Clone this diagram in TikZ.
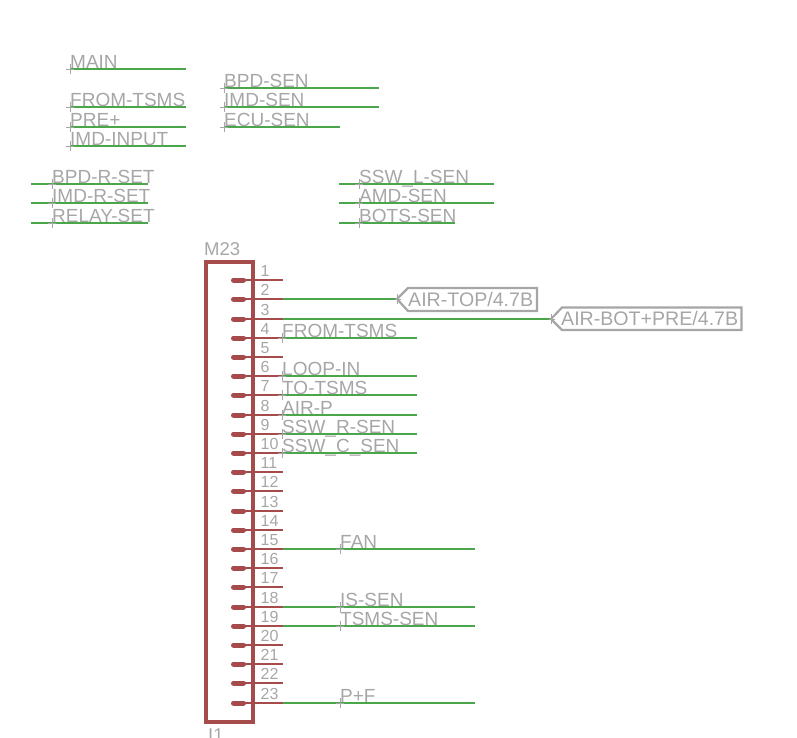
\documentclass[tikz,border=0pt]{standalone}
\usepackage{fontspec}
\setmainfont{Liberation Sans}
\definecolor{eagrey}{HTML}{A6A6A6}
\definecolor{eared}{HTML}{A54B4B}
\definecolor{eagreen}{HTML}{4BA54B}
\tikzset{
  netwire/.style={draw=eagreen,line width=2.4pt},
  pinline/.style={draw=eared,line width=2.2pt},
  pinpad/.style={draw=eared,line width=5pt,line cap=round},
  framebox/.style={draw=eared,line width=4pt,line join=miter},
  labeltext/.style={text=eagrey,inner sep=0pt,anchor=base west,font=\fontsize{19}{22}\selectfont},
  pintext/.style={text=eagrey,inner sep=0pt,anchor=base west,font=\fontsize{16}{18}\selectfont},
  originmark/.style={draw=eagrey,line width=0.8pt},
  flagbox/.style={draw=eagrey,line width=2.2pt,line join=miter}
}
% name, x of label, wire start x, wire end x, y, text
\newcommand{\netseg}[6]{%
  \coordinate (#1a) at (#3,#5);
  \coordinate (#1b) at (#4,#5);
  \draw[netwire] (#1a) -- (#1b);
  \coordinate (#1o) at (#2,#5);
  \draw[originmark] ([xshift=-4pt]#1o) -- ([xshift=4pt]#1o);
  \draw[originmark] ([yshift=-5pt]#1o) -- ([yshift=5pt]#1o);
  \node[labeltext] (#1t) at ([yshift=1pt]#1o) {#6};
}
\begin{document}
\begin{tikzpicture}[x=1pt,y=-1pt]
\useasboundingbox (0,0) rectangle (797,737);
% free nets, upper left
\netseg{main}{70}{70}{186}{69}{MAIN}
\netseg{ftsa}{70}{70}{186}{107}{FROM-TSMS}
\netseg{pre}{70}{70}{186}{127}{PRE+}
\netseg{imdi}{70}{70}{186}{146}{IMD-INPUT}
\netseg{bpds}{224}{224}{379}{88}{BPD-SEN}
\netseg{imds}{224}{224}{379}{107}{IMD-SEN}
\netseg{ecus}{224}{224}{340}{127}{ECU-SEN}
\netseg{bpdr}{52}{31}{148}{184}{BPD-R-SET}
\netseg{imdr}{52}{31}{148}{203}{IMD-R-SET}
\netseg{rels}{52}{31}{148}{223}{RELAY-SET}
\netseg{sswl}{359}{339}{494}{184}{SSW\_L-SEN}
\netseg{amds}{359}{339}{494}{203}{AMD-SEN}
\netseg{bots}{359}{339}{455}{223}{BOTS-SEN}
% connector frame
\coordinate (fa) at (206,261.5);
\coordinate (fb) at (253,721.5);
\draw[framebox] (fa) rectangle (fb);
\node[labeltext,font=\fontsize{18.5}{20}\selectfont] (mname) at (204,255) {M23};
\node[labeltext,font=\fontsize{18.5}{20}\selectfont] (jname) at (208,741) {I1};
% pins
\foreach \n/\y in {1/280,2/299,3/319,4/338,5/357,6/376,7/395,8/415,9/434,10/453,11/472,12/491,13/511,14/530,15/549,16/568,17/587,18/607,19/626,20/645,21/664,22/683,23/703}{
  \coordinate (pa\n) at (233.5,\y);
  \coordinate (pb\n) at (243.5,\y);
  \coordinate (pc\n) at (283,\y);
  \draw[pinpad] (pa\n) -- (pb\n);
  \draw[pinline] (pb\n) -- (pc\n);
  \node[pintext] (pn\n) at (260.5,\y-4) {\n};
}
% nets on pins
\coordinate (ftip) at (397,299);
\draw[netwire] (pc2) -- (ftip);
\coordinate (gtip) at (551,319);
\draw[netwire] (pc3) -- (gtip);
\netseg{ftsb}{282}{283}{417}{338}{FROM-TSMS}
\netseg{loop}{282}{283}{417}{376}{LOOP-IN}
\netseg{tots}{282}{283}{417}{395}{TO-TSMS}
\netseg{airp}{282}{283}{417}{415}{AIR-P}
\netseg{sswr}{282}{283}{417}{434}{SSW\_R-SEN}
\netseg{sswc}{282}{283}{417}{453}{SSW\_C\_SEN}
\netseg{fan}{340}{283}{475}{549}{FAN}
\netseg{isse}{340}{283}{475}{607}{IS-SEN}
\netseg{tsms}{340}{283}{475}{626}{TSMS-SEN}
\netseg{pf}{340}{283}{475}{703}{P+F}
% flags
\draw[flagbox] (ftip) -- (408,288) -- (537,288) -- (537,311) -- (408,311) -- cycle;
\draw[originmark] ([xshift=-2pt]ftip) -- ([xshift=4pt]ftip);
\draw[originmark] ([yshift=-5pt]ftip) -- ([yshift=5pt]ftip);
\node[labeltext,font=\fontsize{19.6}{22}\selectfont] (ftext) at (408,306) {AIR-TOP/4.7B};
\draw[flagbox] (gtip) -- (562,307.5) -- (741.5,307.5) -- (741.5,330) -- (562,330) -- cycle;
\draw[originmark] ([xshift=-2pt]gtip) -- ([xshift=4pt]gtip);
\draw[originmark] ([yshift=-5pt]gtip) -- ([yshift=5pt]gtip);
\node[labeltext,font=\fontsize{19.6}{22}\selectfont] (gtext) at (561,325) {AIR-BOT+PRE/4.7B};
\end{tikzpicture}
\end{document}
